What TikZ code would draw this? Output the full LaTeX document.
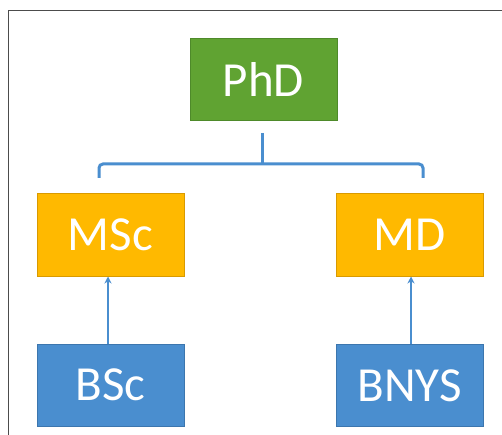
\documentclass[tikz,border=0pt]{standalone}
\usepackage{fontspec}
\setmainfont{Carlito}
\usetikzlibrary{arrows.meta}
\definecolor{phdgreen}{HTML}{60A332}
\definecolor{phdedge}{HTML}{4E8A2A}
\definecolor{morange}{HTML}{FFB900}
\definecolor{moedge}{HTML}{D99A00}
\definecolor{bblue}{HTML}{4A8ECF}
\definecolor{bedge}{HTML}{3C76AE}
\definecolor{linkblue}{HTML}{4A8ECF}
\tikzset{
  box/.style={draw, line width=1pt, minimum width=147pt, minimum height=82pt, inner sep=0pt,
    text=white, font=\fontsize{49}{52}\selectfont},
  phdbox/.style={box, fill=phdgreen, draw=phdedge},
  mbox/.style={box, fill=morange, draw=moedge},
  bbox/.style={box, fill=bblue, draw=bedge},
  bracket/.style={draw=linkblue, line width=3pt, rounded corners=4pt},
  uparrow/.style={draw=linkblue, line width=1.5pt, -{Stealth[length=7pt,width=7pt]}}
}
\begin{document}
\begin{tikzpicture}[x=1pt,y=-1pt]
\useasboundingbox (0,0) rectangle (502,435);
\fill[white] (0,0) rectangle (502,435);
\draw[draw=black!70, line width=1pt] (8,440) -- (8,11) -- (510,11);
\node[phdbox] (phd) at (263.5,79.5) {PhD};
\node[mbox] (msc) at (110.5,235) {MSc};
\node[mbox] (md) at (409.5,235) {MD};
\node[bbox] (bsc) at (110.5,385) {BSc};
\node[bbox] (bnys) at (409.5,385.5) {BNYS};
\coordinate (top) at (262,133);
\coordinate (mid) at (262,164);
\coordinate (lend) at (99,178);
\coordinate (rend) at (423,178);
\draw[bracket] (top) -- (mid);
\draw[bracket] (lend) |- (mid) -| (rend);
\draw[uparrow] (bsc.north -| 108,0) -- (msc.south -| 108,0);
\draw[uparrow] (bnys.north -| 411,0) -- (md.south -| 411,0);
\end{tikzpicture}
\end{document}
